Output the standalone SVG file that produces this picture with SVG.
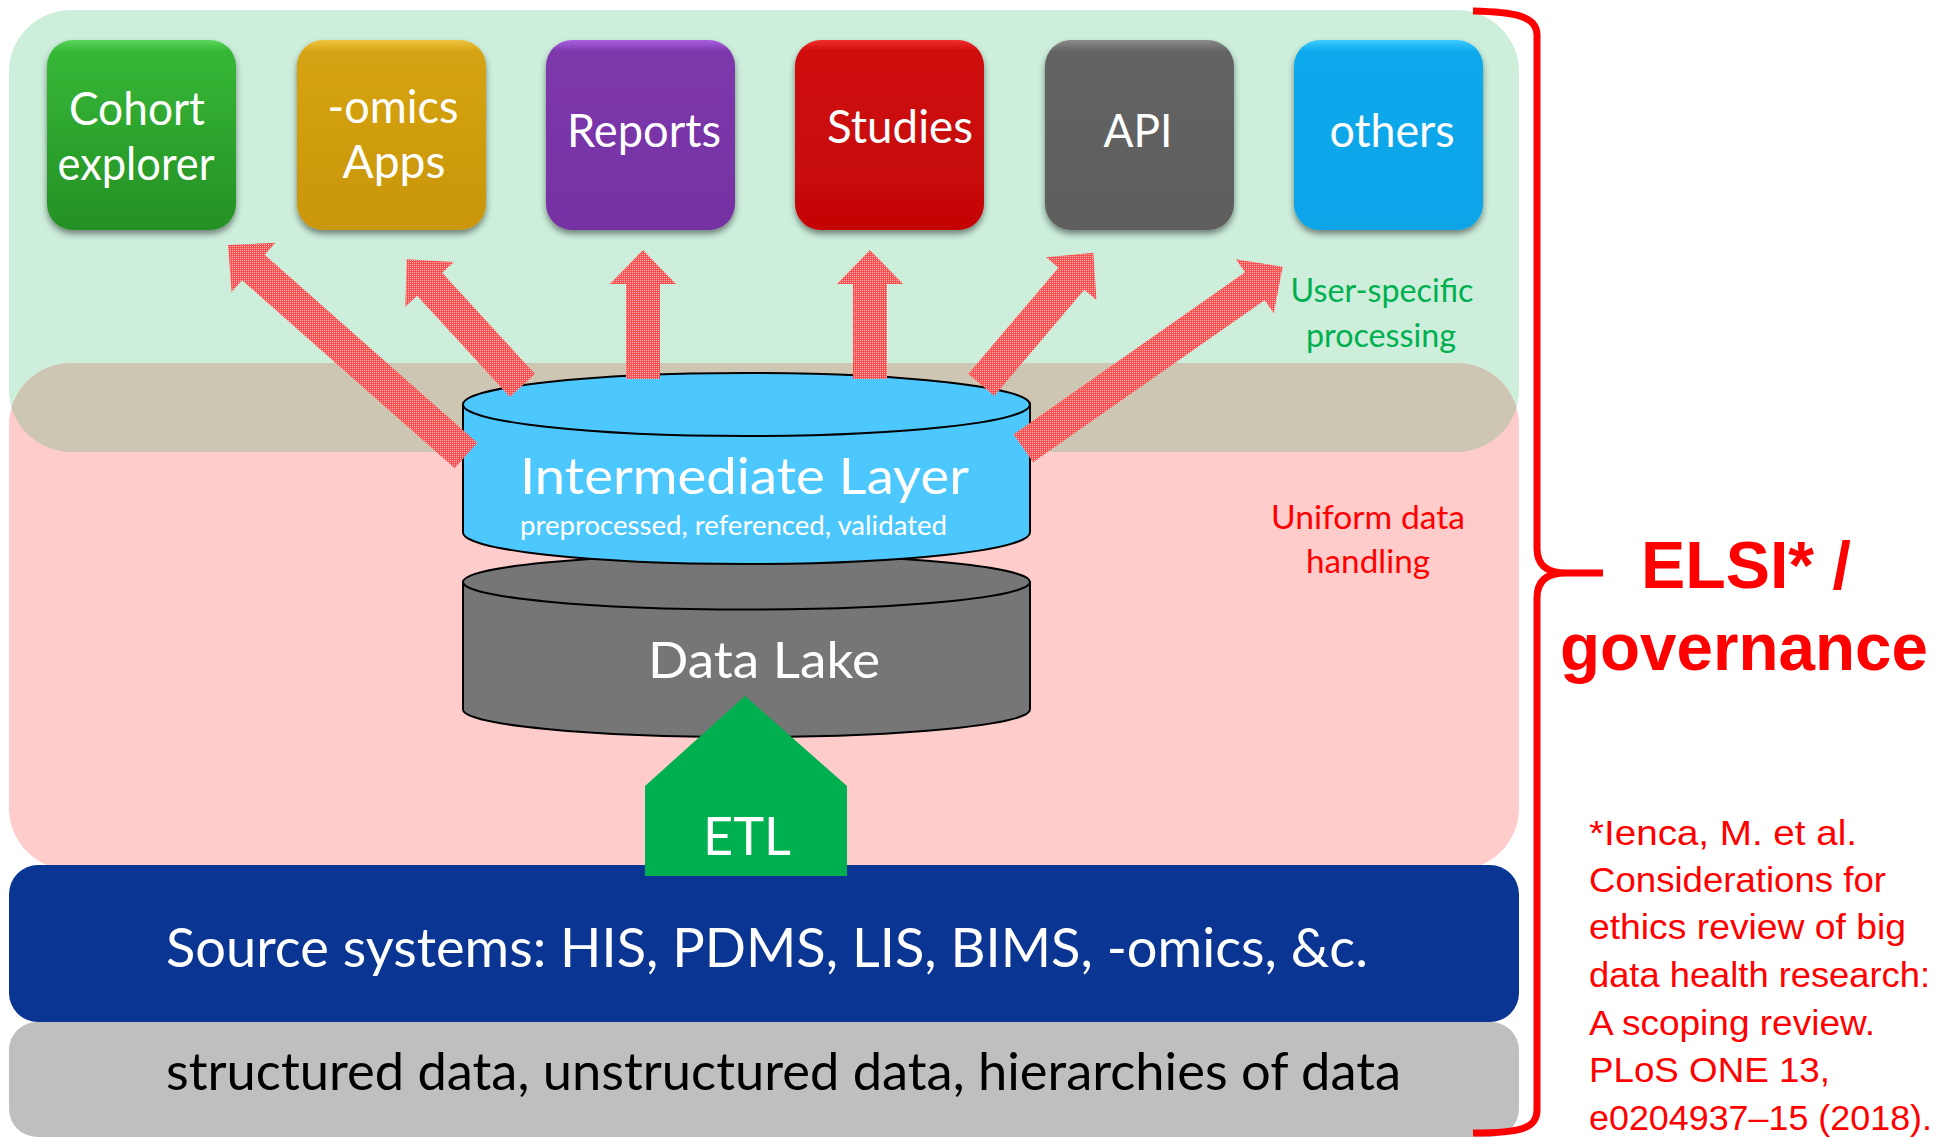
<svg xmlns="http://www.w3.org/2000/svg" width="1948" height="1138" viewBox="0 0 1948 1138">
<defs>
<style>
.nt{font-family:Lato,"Open Sans","Liberation Sans",sans-serif;fill:#fff;font-size:46px}
.cyl{stroke:#000;stroke-width:2}
.lbl{font-family:Lato,"Open Sans","Liberation Sans",sans-serif;font-size:33px}
.band{font-family:Lato,"Open Sans","Liberation Sans",sans-serif}
.cite{font-family:"Liberation Sans",Arial,sans-serif;font-size:35px;fill:#ff0000}
.elsi{font-family:"Liberation Sans",Arial,sans-serif;font-weight:bold;font-size:66px;fill:#ff0000}
.arrow{fill:url(#dots)}
</style>
<pattern id="dots" width="2" height="2" patternUnits="userSpaceOnUse">
<rect width="2" height="2" fill="#ff4d4d"/>
<rect width="1" height="1" fill="#ffbdbd"/>
</pattern>
<filter id="sh" x="-10%" y="-10%" width="120%" height="130%">
<feDropShadow dx="0" dy="4" stdDeviation="3" flood-color="#000" flood-opacity="0.45"/>
</filter>
<linearGradient id="gGreen" x1="0" y1="0" x2="0" y2="1"><stop offset="0" stop-color="#5cd65c"/><stop offset="0.06" stop-color="#36b736"/><stop offset="1" stop-color="#249024"/></linearGradient>
<linearGradient id="gGold" x1="0" y1="0" x2="0" y2="1"><stop offset="0" stop-color="#f0c440"/><stop offset="0.06" stop-color="#d6a312"/><stop offset="1" stop-color="#c9960f"/></linearGradient>
<linearGradient id="gPurple" x1="0" y1="0" x2="0" y2="1"><stop offset="0" stop-color="#a960e0"/><stop offset="0.06" stop-color="#7d38ac"/><stop offset="1" stop-color="#7532a3"/></linearGradient>
<linearGradient id="gRed" x1="0" y1="0" x2="0" y2="1"><stop offset="0" stop-color="#f03030"/><stop offset="0.06" stop-color="#cf0909"/><stop offset="1" stop-color="#c40606"/></linearGradient>
<linearGradient id="gGray" x1="0" y1="0" x2="0" y2="1"><stop offset="0" stop-color="#8a8a8a"/><stop offset="0.06" stop-color="#646464"/><stop offset="1" stop-color="#5e5e5e"/></linearGradient>
<linearGradient id="gBlue" x1="0" y1="0" x2="0" y2="1"><stop offset="0" stop-color="#40ccff"/><stop offset="0.06" stop-color="#09a9ec"/><stop offset="1" stop-color="#07a4e8"/></linearGradient>
<clipPath id="greenClip"><rect x="9" y="10" width="1510" height="442" rx="62" ry="62"/></clipPath>
</defs>

<g id="background">
<rect x="9" y="10" width="1510" height="442" rx="62" ry="62" fill="#cceedb"/>
<rect x="9" y="363" width="1510" height="507" rx="62" ry="62" fill="#ffcccc"/>
<rect x="9" y="363" width="1510" height="507" rx="62" ry="62" fill="#ccc6b3" clip-path="url(#greenClip)"/>
</g>

<g id="labels">
<text class="lbl" fill="#00b050" x="1382" y="302" text-anchor="middle" textLength="183" lengthAdjust="spacingAndGlyphs">User-specific</text>
<text class="lbl" fill="#00b050" x="1381" y="347" text-anchor="middle" textLength="150" lengthAdjust="spacingAndGlyphs">processing</text>
<text class="lbl" fill="#ff0000" x="1368" y="529" text-anchor="middle" textLength="194" lengthAdjust="spacingAndGlyphs">Uniform data</text>
<text class="lbl" fill="#ff0000" x="1368" y="573" text-anchor="middle" textLength="124" lengthAdjust="spacingAndGlyphs">handling</text>
</g>

<g id="node-cohort">
<rect x="47" y="40" width="189" height="190" rx="26" fill="url(#gGreen)" filter="url(#sh)"/>
<text class="nt" x="137" y="125" text-anchor="middle" textLength="136" lengthAdjust="spacingAndGlyphs">Cohort</text>
<text class="nt" x="136" y="180" text-anchor="middle" textLength="157" lengthAdjust="spacingAndGlyphs">explorer</text>
</g>
<g id="node-omics">
<rect x="297" y="40" width="189" height="190" rx="26" fill="url(#gGold)" filter="url(#sh)"/>
<text class="nt" x="393" y="123" text-anchor="middle" textLength="131" lengthAdjust="spacingAndGlyphs">-omics</text>
<text class="nt" x="394" y="178" text-anchor="middle" textLength="103" lengthAdjust="spacingAndGlyphs">Apps</text>
</g>
<g id="node-reports">
<rect x="546" y="40" width="189" height="190" rx="26" fill="url(#gPurple)" filter="url(#sh)"/>
<text class="nt" x="644" y="147" text-anchor="middle" textLength="154" lengthAdjust="spacingAndGlyphs">Reports</text>
</g>
<g id="node-studies">
<rect x="795" y="40" width="189" height="190" rx="26" fill="url(#gRed)" filter="url(#sh)"/>
<text class="nt" x="900" y="143" text-anchor="middle" textLength="146" lengthAdjust="spacingAndGlyphs">Studies</text>
</g>
<g id="node-api">
<rect x="1045" y="40" width="189" height="190" rx="26" fill="url(#gGray)" filter="url(#sh)"/>
<text class="nt" x="1138" y="147" text-anchor="middle" textLength="69" lengthAdjust="spacingAndGlyphs">API</text>
</g>
<g id="node-others">
<rect x="1294" y="40" width="189" height="190" rx="26" fill="url(#gBlue)" filter="url(#sh)"/>
<text class="nt" x="1392" y="147" text-anchor="middle" textLength="125" lengthAdjust="spacingAndGlyphs">others</text>
</g>

<g id="node-source">
<rect x="9" y="1022" width="1510" height="115" rx="28" ry="28" fill="#bfbfbf"/>
<text class="band" fill="#000" x="166" y="1090" font-size="52" textLength="1235" lengthAdjust="spacingAndGlyphs">structured data, unstructured data, hierarchies of data</text>
<rect x="9" y="865" width="1510" height="157" rx="29" ry="29" fill="#0a3593"/>
<text class="band" fill="#fff" x="166" y="967" font-size="54" textLength="1202" lengthAdjust="spacingAndGlyphs">Source systems: HIS, PDMS, LIS, BIMS, -omics, &amp;c.</text>
</g>

<g id="node-datalake">
<path class="cyl" fill="#767676" d="M463,582 L463,709.5 A283.5,27.5 0 0 0 1030,709.5 L1030,582 Z"/>
<ellipse class="cyl" fill="#767676" cx="746.5" cy="582" rx="283.5" ry="27.5"/>
<text class="band" fill="#fff" x="764" y="678" text-anchor="middle" font-size="51" textLength="232" lengthAdjust="spacingAndGlyphs">Data Lake</text>
</g>

<g id="node-intermediate">
<path class="cyl" fill="#4dc8ff" d="M463,404.5 L463,532.5 A283.5,31.5 0 0 0 1030,532.5 L1030,404.5 Z"/>
<ellipse class="cyl" fill="#4dc8ff" cx="746.5" cy="404.5" rx="283.5" ry="31.5"/>
<text class="band" fill="#fff" x="520" y="494" font-size="51" textLength="449" lengthAdjust="spacingAndGlyphs">Intermediate Layer</text>
<text class="band" fill="#fff" x="520" y="535" font-size="27" textLength="427" lengthAdjust="spacingAndGlyphs">preprocessed, referenced, validated</text>
</g>

<g id="node-etl">
<polygon points="745,696 847,786 847,876 645,876 645,786" fill="#00b050"/>
<text class="band" fill="#fff" x="747" y="855" text-anchor="middle" font-size="52" textLength="88" lengthAdjust="spacingAndGlyphs">ETL</text>
</g>

<g id="connectors">
<polygon class="arrow" points="477.26,442.77 264.73,254.80 275.34,242.81 228,245 231.60,292.25 242.21,280.26 454.74,468.23"/>
<polygon class="arrow" points="535.02,374.01 442.20,272.86 453.99,262.04 406.7,259.3 405.37,306.66 417.16,295.84 509.98,396.99"/>
<polygon class="arrow" points="660,379 660,284 676,284 643,250 610,284 626,284 626,379"/>
<polygon class="arrow" points="887,379 887,284 903,284 870,250 837,284 853,284 853,379"/>
<polygon class="arrow" points="994.28,395.99 1084.31,289.65 1096.52,299.99 1093.3,252.7 1046.14,257.33 1058.35,267.67 968.32,374.01"/>
<polygon class="arrow" points="1033.05,462.23 1264.60,300.13 1273.78,313.23 1282.7,266.7 1235.92,259.17 1245.10,272.27 1013.55,434.37"/>
</g>

<g id="governance">
<path d="M1473,11 C1512,12 1537,15 1537,35 L1537,548 C1537,566 1548,573 1566,573 L1603,573 M1566,573 C1548,573 1537,580 1537,598 L1537,1110 C1537,1128 1522,1133 1473,1133" fill="none" stroke="#ff0000" stroke-width="7"/>
<text class="elsi" x="1746" y="588" text-anchor="middle" textLength="210" lengthAdjust="spacingAndGlyphs">ELSI* /</text>
<text class="elsi" x="1744" y="670" text-anchor="middle" textLength="368" lengthAdjust="spacingAndGlyphs">governance</text>
<text class="cite" x="1589" y="845" textLength="268" lengthAdjust="spacingAndGlyphs">*Ienca, M. et al.</text>
<text class="cite" x="1589" y="892" textLength="297" lengthAdjust="spacingAndGlyphs">Considerations for</text>
<text class="cite" x="1589" y="939" textLength="317" lengthAdjust="spacingAndGlyphs">ethics review of big</text>
<text class="cite" x="1589" y="987" textLength="341" lengthAdjust="spacingAndGlyphs">data health research:</text>
<text class="cite" x="1589" y="1035" textLength="286" lengthAdjust="spacingAndGlyphs">A scoping review.</text>
<text class="cite" x="1589" y="1082" textLength="241" lengthAdjust="spacingAndGlyphs">PLoS ONE 13,</text>
<text class="cite" x="1589" y="1130" textLength="343" lengthAdjust="spacingAndGlyphs">e0204937–15 (2018).</text>
</g>
</svg>
